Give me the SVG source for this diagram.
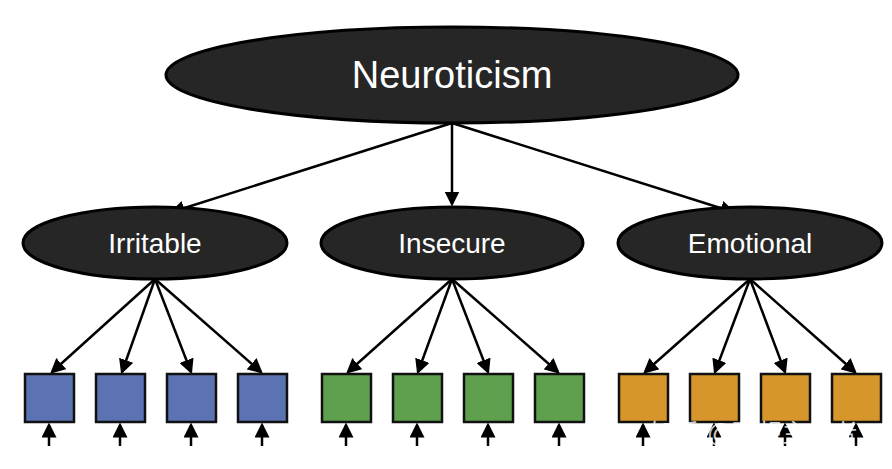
<svg xmlns="http://www.w3.org/2000/svg" width="892" height="469" viewBox="0 0 892 469">
<style>
.e{fill:#262626;stroke:#000;stroke-width:3}
.t{fill:#fff;font-family:"Liberation Sans",Arial,sans-serif;text-anchor:middle}
.c line{stroke:#000;stroke-width:2.5;marker-end:url(#a)}
.b{fill:#5b72b3;stroke:#111;stroke-width:2.5}
.g{fill:#5fa04e;stroke:#111;stroke-width:2.5}
.o{fill:#d6962c;stroke:#111;stroke-width:2.5}
</style>
<defs><marker id="a" markerWidth="6" markerHeight="6" refX="5" refY="3" orient="auto"><path d="M0,0 L6,3 L0,6 z" fill="#000"/></marker></defs>
<rect width="892" height="469" fill="#fff"/>
<g class="c">
<line x1="452" y1="123" x2="172" y2="212"/>
<line x1="452" y1="123" x2="452" y2="204"/>
<line x1="452" y1="123" x2="733" y2="212"/>
<line x1="155" y1="279" x2="52" y2="372"/>
<line x1="155" y1="279" x2="122" y2="372"/>
<line x1="155" y1="279" x2="191" y2="372"/>
<line x1="155" y1="279" x2="261" y2="372"/>
<line x1="452" y1="279" x2="348" y2="372"/>
<line x1="452" y1="279" x2="418" y2="372"/>
<line x1="452" y1="279" x2="488" y2="372"/>
<line x1="452" y1="279" x2="558" y2="372"/>
<line x1="750" y1="279" x2="645" y2="372"/>
<line x1="750" y1="279" x2="715" y2="372"/>
<line x1="750" y1="279" x2="785" y2="372"/>
<line x1="750" y1="279" x2="855" y2="372"/>
<line x1="49" y1="446" x2="49" y2="425"/><line x1="120" y1="446" x2="120" y2="425"/>
<line x1="191" y1="446" x2="191" y2="425"/><line x1="262" y1="446" x2="262" y2="425"/>
<line x1="346" y1="446" x2="346" y2="425"/><line x1="417" y1="446" x2="417" y2="425"/>
<line x1="488" y1="446" x2="488" y2="425"/><line x1="559" y1="446" x2="559" y2="425"/>
<line x1="643" y1="446" x2="643" y2="425"/><line x1="714" y1="446" x2="714" y2="425"/>
<line x1="785" y1="446" x2="785" y2="425"/><line x1="856" y1="446" x2="856" y2="425"/>
</g>
<g id="neuroticism"><ellipse class="e" cx="452" cy="75" rx="286" ry="48"/><text class="t" x="452" y="88" font-size="38">Neuroticism</text></g>
<g id="irritable"><ellipse class="e" cx="155" cy="243" rx="132" ry="36"/><text class="t" x="155" y="253" font-size="28">Irritable</text></g>
<g id="insecure"><ellipse class="e" cx="452" cy="243" rx="131" ry="36"/><text class="t" x="452" y="253" font-size="28">Insecure</text></g>
<g id="emotional"><ellipse class="e" cx="750" cy="243" rx="132" ry="36"/><text class="t" x="750" y="253" font-size="28">Emotional</text></g>
<g id="i1"><rect class="b" x="25" y="374" width="49" height="48"/></g>
<g id="i2"><rect class="b" x="96" y="374" width="49" height="48"/></g>
<g id="i3"><rect class="b" x="167" y="374" width="49" height="48"/></g>
<g id="i4"><rect class="b" x="238" y="374" width="49" height="48"/></g>
<g id="s1"><rect class="g" x="322" y="374" width="49" height="48"/></g>
<g id="s2"><rect class="g" x="393" y="374" width="49" height="48"/></g>
<g id="s3"><rect class="g" x="464" y="374" width="49" height="48"/></g>
<g id="s4"><rect class="g" x="535" y="374" width="49" height="48"/></g>
<g id="e1"><rect class="o" x="619" y="374" width="49" height="48"/></g>
<g id="e2"><rect class="o" x="690" y="374" width="49" height="48"/></g>
<g id="e3"><rect class="o" x="761" y="374" width="49" height="48"/></g>
<g id="e4"><rect class="o" x="832" y="374" width="49" height="48"/></g>
<text x="650" y="442" font-size="25" fill="#fff" fill-opacity="0.8" font-family="'Liberation Sans','Noto Sans CJK SC',sans-serif">知乎 @理想主义者</text>
</svg>
